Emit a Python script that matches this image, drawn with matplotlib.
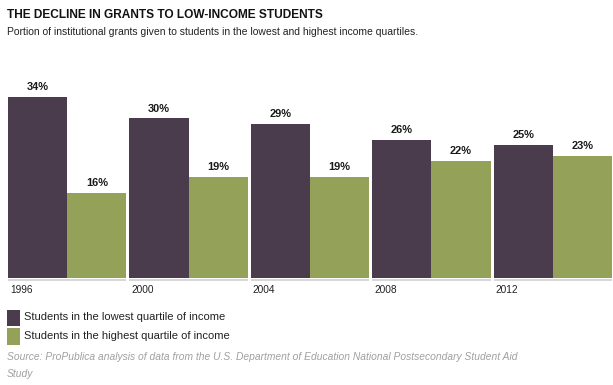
import matplotlib
matplotlib.use("Agg")
import matplotlib.pyplot as plt
from matplotlib.patches import Rectangle

years = ["1996", "2000", "2004", "2008", "2012"]
lowest = [34, 30, 29, 26, 25]
highest = [16, 19, 19, 22, 23]
series_names = ["Students in the lowest quartile of income",
                "Students in the highest quartile of income"]

PURPLE = "#4a3b4d"
GREEN = "#93a159"

plt.rcParams['font.family'] = ['Liberation Sans', 'DejaVu Sans']

W, H = 613, 385
fig = plt.figure(figsize=(W / 100, H / 100), dpi=100)

left, right = 8 / W, 612 / W
bottom = 1 - 278 / H
top = 1 - (278 - 36 * 5.32) / H
ax = fig.add_axes([left, bottom, right - left, top - bottom])

bw = 0.4875
gw = 0.975
for i in range(len(years)):
    ax.bar(i, lowest[i], width=bw, align='edge', color=PURPLE, linewidth=0)
    ax.bar(i + bw, highest[i], width=bw, align='edge', color=GREEN, linewidth=0)
    ax.text(i + bw / 2, lowest[i] + 0.9, f"{lowest[i]}%", ha='center', va='bottom',
            fontsize=7.9, fontweight='bold', color='#1a1a1a')
    ax.text(i + bw * 1.5, highest[i] + 0.9, f"{highest[i]}%", ha='center', va='bottom',
            fontsize=7.9, fontweight='bold', color='#1a1a1a')
    ax.plot([i, i + gw], [-0.4, -0.4], color='#cfcfcf', lw=1.2, clip_on=False,
            solid_capstyle='butt')
    ax.text(i + 0.015, -1.4, years[i], ha='left', va='top', fontsize=7.3, color='#222222')

ax.set_xlim(0, 4 + gw)
ax.set_ylim(0, 36)
ax.axis('off')

fig.text(7 / W, 1 - 15 / H, "THE DECLINE IN GRANTS TO LOW-INCOME STUDENTS",
         fontsize=8.6, fontweight='bold', ha='left', va='center', color='#111111')
fig.text(7 / W, 1 - 32 / H,
         "Portion of institutional grants given to students in the lowest and highest income quartiles.",
         fontsize=7.45, ha='left', va='center', color='#222222')

# legend
for k, (name, col) in enumerate(zip(series_names, [PURPLE, GREEN])):
    y0 = 1 - (326 + k * 18.5) / H
    fig.patches.append(Rectangle((7 / W, y0), 13 / W, 16.5 / H, transform=fig.transFigure,
                                 facecolor=col, edgecolor='none'))
    fig.text(24 / W, y0 + 8.5 / H, name, fontsize=8.0, ha='left', va='center',
             color='#222222')

fig.text(7 / W, 1 - 357 / H,
         "Source: ProPublica analysis of data from the U.S. Department of Education National Postsecondary Student Aid",
         fontsize=7.35, style='italic', ha='left', va='center', color='#a0a0a0')
fig.text(7 / W, 1 - 374 / H, "Study",
         fontsize=7.35, style='italic', ha='left', va='center', color='#a0a0a0')

fig.savefig("out.png", dpi=100)
